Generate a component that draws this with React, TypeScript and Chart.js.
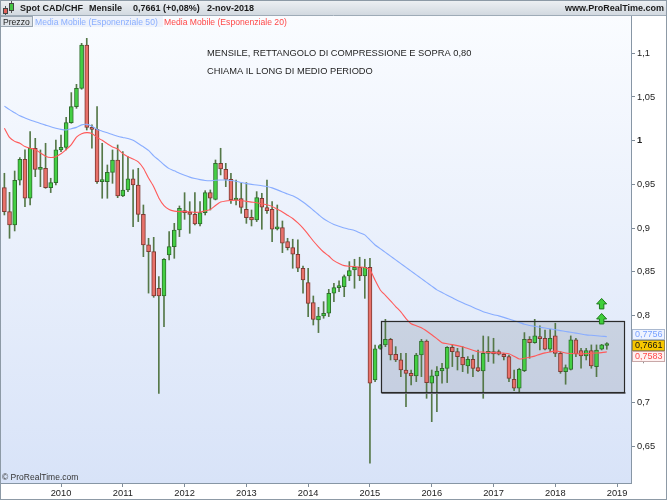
import React, { useEffect, useRef } from 'react';
import { Chart, registerables } from 'chart.js';

Chart.register(...registerables);

// Monthly candles, first candle = Feb 2009, last = Nov 2018
const firstMonth = 'feb-2009';
const yearLabels = ['2010', '2011', '2012', '2013', '2014', '2015', '2016', '2017', '2018', '2019'];
const yearTickIndex = [11, 23, 35, 47, 59, 71, 83, 95, 107, 119];
const yTicks = [0.65, 0.7, 0.75, 0.8, 0.85, 0.9, 0.95, 1, 1.05, 1.1];

const opens = [
  0.9463, 0.9188, 0.9036, 0.9547, 0.9787, 0.9341, 0.9913, 0.9672, 0.9684, 0.9463,
  0.9520, 0.9894, 0.9924, 1.0206, 1.0389, 1.0599, 1.1095, 1.0153, 1.0130, 0.9531,
  0.9531, 0.9638, 0.9779, 0.9367, 0.9436, 0.9562, 0.9493, 0.9157, 0.8807, 0.8730,
  0.8311, 0.8223, 0.8692, 0.8787, 0.8978, 0.9199, 0.9184, 0.9157, 0.9047, 0.9177,
  0.9405, 0.9329, 0.9741, 0.9673, 0.9558, 0.9321, 0.9337, 0.9215, 0.9123, 0.9093,
  0.9341, 0.9234, 0.9215, 0.8990, 0.9005, 0.8845, 0.8776, 0.8700, 0.8540, 0.8376,
  0.8147, 0.7949, 0.7994, 0.8025, 0.8254, 0.8318, 0.8330, 0.8452, 0.8521, 0.8551,
  0.8452, 0.8551, 0.7262, 0.7624, 0.7663, 0.7727, 0.7556, 0.7491, 0.7376, 0.7338,
  0.7308, 0.7548, 0.7708, 0.7224, 0.7308, 0.7365, 0.7395, 0.7636, 0.7586, 0.7521,
  0.7422, 0.7498, 0.7403, 0.7365, 0.7567, 0.7586, 0.7586, 0.7556, 0.7529, 0.7270,
  0.7167, 0.7369, 0.7727, 0.7689, 0.7739, 0.7739, 0.7613, 0.7766, 0.7567, 0.7357,
  0.7384, 0.7720, 0.7598, 0.7537, 0.7598, 0.7415, 0.7613, 0.7656,
];
const highs = [
  0.9627, 0.9409, 0.9653, 0.9806, 0.9894, 1.0103, 1.0027, 0.9894, 0.9970, 0.9570,
  1.0008, 1.0065, 1.0267, 1.0550, 1.0645, 1.1114, 1.1171, 1.0180, 1.0389, 0.9970,
  0.9722, 0.9894, 0.9951, 0.9875, 0.9817, 0.9665, 0.9684, 0.9264, 0.8883, 0.8894,
  0.8444, 0.8650, 0.8959, 0.9054, 0.9253, 0.9405, 0.9302, 0.9405, 0.9302, 0.9428,
  0.9436, 0.9779, 0.9913, 0.9741, 0.9627, 0.9550, 0.9512, 0.9520, 0.9207, 0.9417,
  0.9398, 0.9550, 0.9302, 0.9264, 0.9081, 0.8883, 0.8872, 0.8864, 0.8566, 0.8540,
  0.8223, 0.8093, 0.8158, 0.8299, 0.8368, 0.8395, 0.8463, 0.8616, 0.8643, 0.8666,
  0.8643, 0.8654, 0.7662, 0.7670, 0.7956, 0.7739, 0.7643, 0.7567, 0.7567, 0.7376,
  0.7567, 0.7727, 0.7720, 0.7376, 0.7415, 0.7453, 0.7643, 0.7663, 0.7624, 0.7643,
  0.7529, 0.7548, 0.7605, 0.7765, 0.7758, 0.7739, 0.7605, 0.7567, 0.7548, 0.7376,
  0.7396, 0.7804, 0.7758, 0.7956, 0.7880, 0.7834, 0.7842, 0.7911, 0.7586, 0.7434,
  0.7766, 0.7739, 0.7624, 0.7624, 0.7663, 0.7663, 0.7670, 0.7689,
];
const lows = [
  0.9150, 0.8883, 0.8967, 0.9493, 0.9245, 0.9264, 0.9588, 0.9474, 0.9455, 0.9406,
  0.9493, 0.9875, 0.9894, 1.0199, 1.0370, 1.0588, 1.0122, 0.9913, 0.9512, 0.9341,
  0.9341, 0.9512, 0.9348, 0.9360, 0.9417, 0.9017, 0.9074, 0.8673, 0.8256, 0.8208,
  0.7109, 0.7872, 0.8635, 0.8654, 0.8902, 0.9100, 0.8940, 0.9035, 0.9024, 0.9150,
  0.9207, 0.9322, 0.9608, 0.9474, 0.9283, 0.9264, 0.9169, 0.9054, 0.9024, 0.9074,
  0.8986, 0.9169, 0.8845, 0.8978, 0.8719, 0.8749, 0.8540, 0.8501, 0.8254, 0.7987,
  0.7891, 0.7804, 0.7968, 0.7987, 0.8158, 0.8273, 0.8215, 0.8399, 0.8311, 0.8399,
  0.8196, 0.6309, 0.7243, 0.7613, 0.7643, 0.7491, 0.7472, 0.7300, 0.6957, 0.7205,
  0.7243, 0.7300, 0.7052, 0.6785, 0.6900, 0.7224, 0.7232, 0.7415, 0.7376, 0.7357,
  0.7338, 0.7300, 0.7357, 0.7052, 0.7472, 0.7453, 0.7548, 0.7491, 0.7243, 0.7140,
  0.7117, 0.7357, 0.7510, 0.7682, 0.7605, 0.7605, 0.7586, 0.7529, 0.7338, 0.7213,
  0.7376, 0.7529, 0.7396, 0.7491, 0.7396, 0.7300, 0.7605, 0.7613,
];
const closes = [
  0.9188, 0.9036, 0.9547, 0.9787, 0.9341, 0.9913, 0.9672, 0.9691, 0.9463, 0.9520,
  0.9894, 0.9924, 1.0206, 1.0389, 1.0599, 1.1095, 1.0153, 1.0130, 0.9531, 0.9538,
  0.9638, 0.9779, 0.9367, 0.9436, 0.9562, 0.9493, 0.9157, 0.8807, 0.8730, 0.8223,
  0.8223, 0.8643, 0.8787, 0.8978, 0.9226, 0.9177, 0.9157, 0.9047, 0.9177, 0.9405,
  0.9341, 0.9741, 0.9676, 0.9558, 0.9321, 0.9337, 0.9237, 0.9119, 0.9093, 0.9348,
  0.9238, 0.9199, 0.8986, 0.9005, 0.8826, 0.8776, 0.8700, 0.8540, 0.8406, 0.8139,
  0.7956, 0.7994, 0.8025, 0.8254, 0.8318, 0.8338, 0.8444, 0.8513, 0.8551, 0.8452,
  0.8551, 0.7224, 0.7617, 0.7655, 0.7727, 0.7548, 0.7491, 0.7376, 0.7338, 0.7308,
  0.7548, 0.7708, 0.7232, 0.7308, 0.7365, 0.7395, 0.7636, 0.7586, 0.7529, 0.7434,
  0.7498, 0.7395, 0.7365, 0.7567, 0.7580, 0.7560, 0.7556, 0.7529, 0.7281, 0.7167,
  0.7384, 0.7727, 0.7689, 0.7766, 0.7735, 0.7613, 0.7739, 0.7567, 0.7357, 0.7403,
  0.7720, 0.7560, 0.7537, 0.7598, 0.7422, 0.7605, 0.7663, 0.7661,
];
// Exponential moving averages as drawn in the reference (read monthly)
const ema50 = [
  1.0395, 1.0355, 1.0320, 1.0284, 1.0260, 1.0237, 1.0217, 1.0197, 1.0178, 1.0159,
  1.0143, 1.0129, 1.0122, 1.0137, 1.0152, 1.0181, 1.0187, 1.0165, 1.0129, 1.0109,
  1.0090, 1.0070, 1.0051, 1.0037, 1.0024, 1.0005, 0.9968, 0.9930, 0.9888, 0.9826,
  0.9778, 0.9725, 0.9680, 0.9655, 0.9628, 0.9604, 0.9583, 0.9567, 0.9554, 0.9544,
  0.9541, 0.9547, 0.9550, 0.9550, 0.9545, 0.9535, 0.9522, 0.9509, 0.9500, 0.9492,
  0.9485, 0.9476, 0.9460, 0.9437, 0.9414, 0.9389, 0.9369, 0.9338, 0.9298, 0.9253,
  0.9204, 0.9155, 0.9106, 0.9071, 0.9041, 0.9020, 0.9000, 0.8986, 0.8972, 0.8947,
  0.8922, 0.8864, 0.8806, 0.8765, 0.8722, 0.8679, 0.8636, 0.8593, 0.8550, 0.8507,
  0.8464, 0.8421, 0.8379, 0.8336, 0.8293, 0.8262, 0.8232, 0.8202, 0.8172, 0.8145,
  0.8120, 0.8094, 0.8068, 0.8043, 0.8025, 0.8008, 0.7995, 0.7978, 0.7960, 0.7940,
  0.7920, 0.7900, 0.7886, 0.7876, 0.7866, 0.7856, 0.7847, 0.7837, 0.7827, 0.7817,
  0.7808, 0.7798, 0.7788, 0.7778, 0.7773, 0.7768, 0.7763, 0.7758,
];
const ema20 = [
  1.0143, 1.0037, 0.9992, 0.9971, 0.9932, 0.9913, 0.9900, 0.9860, 0.9823, 0.9808,
  0.9817, 0.9850, 0.9897, 0.9955, 1.0040, 1.0078, 1.0092, 1.0082, 1.0037, 1.0004,
  0.9965, 0.9928, 0.9904, 0.9852, 0.9817, 0.9790, 0.9758, 0.9685, 0.9573, 0.9473,
  0.9345, 0.9257, 0.9213, 0.9194, 0.9188, 0.9188, 0.9186, 0.9180, 0.9183, 0.9198,
  0.9213, 0.9258, 0.9297, 0.9310, 0.9316, 0.9320, 0.9315, 0.9305, 0.9297, 0.9290,
  0.9278, 0.9266, 0.9248, 0.9215, 0.9185, 0.9147, 0.9110, 0.9060, 0.9000, 0.8928,
  0.8852, 0.8786, 0.8726, 0.8680, 0.8627, 0.8595, 0.8570, 0.8563, 0.8559, 0.8555,
  0.8549, 0.8521, 0.8403, 0.8292, 0.8230, 0.8167, 0.8102, 0.8041, 0.7965, 0.7906,
  0.7883, 0.7860, 0.7822, 0.7780, 0.7735, 0.7689, 0.7677, 0.7666, 0.7655, 0.7641,
  0.7621, 0.7602, 0.7585, 0.7581, 0.7578, 0.7575, 0.7572, 0.7569, 0.7563, 0.7533,
  0.7502, 0.7510, 0.7521, 0.7535, 0.7555, 0.7572, 0.7583, 0.7595, 0.7585, 0.7570,
  0.7565, 0.7562, 0.7560, 0.7564, 0.7567, 0.7570, 0.7575, 0.7583,
];

const lastClose = 0.7661;
const lastEma50 = 0.7756;
const lastEma20 = 0.7583;
const headerItems = ['Spot CAD/CHF', 'Mensile', '0,7661 (+0,08%)', '2-nov-2018'];
const noteLines = ['MENSILE, RETTANGOLO DI COMPRESSIONE E SOPRA 0,80', 'CHIAMA IL LONG DI MEDIO PERIODO'];
// compression rectangle (month index range, price range)
const boxMonths = [73.1, 120.3];
const boxPrices = [0.7128, 0.794];
const arrowMonth = 116;
const arrowLevels = [0.8132, 0.796];

const FONT = '"Liberation Sans", Arial, sans-serif';
const GREEN = '#44cf44';
const GREEN_EDGE = '#2f6e2c';
const RED = '#e8716a';
const RED_EDGE = '#7d3a33';
const WICK = '#557848';
const BLUE_LINE = '#89adff';
const RED_LINE = '#ff5a5a';

const fmt = (v: number, d?: number) => {
  const s = d === undefined ? String(+v.toFixed(2)) : v.toFixed(d);
  return s.replace('.', ',');
};

const decor = {
  id: 'decor',
  beforeDraw(chart: any) {
    const { ctx, chartArea: a } = chart;
    ctx.save();
    ctx.fillStyle = '#ffffff';
    ctx.fillRect(0, 0, chart.width, chart.height);
    const g = ctx.createLinearGradient(0, a.top, 0, a.bottom);
    g.addColorStop(0, '#fafcff');
    g.addColorStop(1, '#d8e3f8');
    ctx.fillStyle = g;
    ctx.fillRect(a.left, a.top, a.right - a.left, a.bottom - a.top);
    ctx.restore();
  },
  beforeDatasetsDraw(chart: any) {
    const { ctx, scales: { x, y } } = chart;
    const l = x.getPixelForValue(boxMonths[0]);
    const r = x.getPixelForValue(boxMonths[1]);
    const t = y.getPixelForValue(boxPrices[1]);
    const b = y.getPixelForValue(boxPrices[0]);
    ctx.save();
    ctx.fillStyle = 'rgba(70,78,100,0.16)';
    ctx.fillRect(l, t, r - l, b - t);
    ctx.restore();
  },
  afterDatasetsDraw(chart: any) {
    const { ctx, scales: { x, y } } = chart;
    const l = Math.round(x.getPixelForValue(boxMonths[0])) + 0.5;
    const r = Math.round(x.getPixelForValue(boxMonths[1])) + 0.5;
    const t = Math.round(y.getPixelForValue(boxPrices[1])) + 0.5;
    const b = Math.round(y.getPixelForValue(boxPrices[0])) + 0.5;
    ctx.save();
    ctx.strokeStyle = '#6d7078';
    ctx.lineWidth = 2;
    ctx.beginPath();
    ctx.moveTo(l, b + 0.5);
    ctx.lineTo(r + 1, b + 0.5);
    ctx.stroke();
    ctx.strokeStyle = '#2a2a2a';
    ctx.lineWidth = 1.2;
    ctx.strokeRect(l, t, r - l, b - t);

    // arrows
    const ax = x.getPixelForValue(arrowMonth);
    arrowLevels.forEach((lv) => {
      const cy = y.getPixelForValue(lv);
      ctx.beginPath();
      ctx.moveTo(ax, cy - 5.5);
      ctx.lineTo(ax + 5, cy);
      ctx.lineTo(ax + 2.2, cy);
      ctx.lineTo(ax + 2.2, cy + 5);
      ctx.lineTo(ax - 2.2, cy + 5);
      ctx.lineTo(ax - 2.2, cy);
      ctx.lineTo(ax - 5, cy);
      ctx.closePath();
      ctx.fillStyle = '#3fcf3a';
      ctx.fill();
      ctx.strokeStyle = '#1f7a1c';
      ctx.lineWidth = 1;
      ctx.stroke();
    });
    ctx.restore();
  },
  afterDraw(chart: any) {
    const { ctx, chartArea: a, scales: { y } } = chart;
    const W = chart.width;
    const H = chart.height;
    ctx.save();
    // header bar
    const hg = ctx.createLinearGradient(0, 0, 0, 15);
    hg.addColorStop(0, '#eef1f4');
    hg.addColorStop(1, '#d2d9e0');
    ctx.fillStyle = hg;
    ctx.fillRect(0, 0, W, 15);
    ctx.strokeStyle = '#9eabb7';
    ctx.lineWidth = 1;
    ctx.beginPath();
    ctx.moveTo(0, 15.5);
    ctx.lineTo(W, 15.5);
    ctx.stroke();
    // icon
    ctx.strokeStyle = '#555';
    ctx.beginPath();
    ctx.moveTo(5.5, 6); ctx.lineTo(5.5, 15);
    ctx.moveTo(11.5, 1); ctx.lineTo(11.5, 13);
    ctx.stroke();
    ctx.fillStyle = '#e0605a';
    ctx.fillRect(3, 8, 5, 6);
    ctx.fillStyle = '#44c444';
    ctx.fillRect(9, 3, 5, 8);
    ctx.strokeStyle = '#444';
    ctx.strokeRect(3.5, 8.5, 4, 5);
    ctx.strokeRect(9.5, 3.5, 4, 7);

    ctx.fillStyle = '#1a1a1a';
    ctx.font = 'bold 9px ' + FONT;
    ctx.textBaseline = 'alphabetic';
    const hx = [20, 89, 133, 207];
    headerItems.forEach((t, i) => ctx.fillText(t, hx[i], 11));
    ctx.textAlign = 'right';
    ctx.fillText('www.ProRealTime.com', W - 3, 11);
    ctx.textAlign = 'left';

    // legend row
    ctx.fillStyle = '#dfe4ea';
    ctx.fillRect(0, 16, 33, 11);
    ctx.strokeStyle = '#9aa6b2';
    ctx.strokeRect(0.5, 16.5, 32, 10);
    ctx.font = '8.6px ' + FONT;
    ctx.fillStyle = '#222';
    ctx.fillText('Prezzo', 3, 25);
    ctx.fillStyle = '#eef2fb';
    ctx.fillRect(34, 16, 129, 11);
    ctx.fillStyle = '#8aaeff';
    ctx.fillText('Media Mobile (Esponenziale 50)', 35, 25);
    ctx.fillStyle = '#ff4848';
    ctx.fillText('Media Mobile (Esponenziale 20)', 164, 25);

    // note text
    ctx.fillStyle = '#1e1e1e';
    ctx.font = '9.3px ' + FONT;
    ctx.fillText(noteLines[0], 207, 56);
    ctx.fillText(noteLines[1], 207, 74);

    // copyright
    ctx.font = '8.5px ' + FONT;
    ctx.fillStyle = '#333';
    ctx.fillText('\u00A9 ProRealTime.com', 2, a.bottom - 3);

    // value boxes on right axis
    const bx = a.right + 1;
    const bw = 33;
    const bh = 11;
    const yc = y.getPixelForValue(lastClose);
    const boxes = [
      { v: lastEma50, cy: yc - bh, bg: '#eef3ff', fg: '#7aa2ff', br: '#a9b8cf' },
      { v: lastClose, cy: yc, bg: '#f7c600', fg: '#111', br: '#9c8a3a' },
      { v: lastEma20, cy: yc + bh, bg: '#fff1f1', fg: '#ff4a4a', br: '#c8a8a8' },
    ];
    ctx.font = '9px ' + FONT;
    ctx.textBaseline = 'middle';
    boxes.forEach((b) => {
      const top = Math.round(b.cy - bh / 2);
      ctx.fillStyle = b.bg;
      ctx.fillRect(bx, top, bw, bh);
      ctx.strokeStyle = b.br;
      ctx.strokeRect(bx + 0.5, top + 0.5, bw - 1, bh - 1);
      ctx.fillStyle = b.fg;
      ctx.fillText(fmt(b.v, 4), bx + 3, top + bh / 2 + 0.5);
    });

    // frame
    ctx.strokeStyle = '#8d9aa6';
    ctx.lineWidth = 1;
    ctx.beginPath();
    ctx.moveTo(0.5, 15);
    ctx.lineTo(0.5, a.bottom);
    ctx.stroke();
    ctx.strokeRect(0.5, 0.5, W - 1, H - 1);
    ctx.restore();
  },
};

export default function App() {
  const ref = useRef<HTMLCanvasElement>(null);
  useEffect(() => {
    const idx = opens.map((_, i) => i);
    const up = idx.map((i) => closes[i] >= opens[i]);
    const chart = new Chart(ref.current as HTMLCanvasElement, {
      type: 'bar',
      data: {
        datasets: [
          {
            type: 'line',
            label: 'Media Mobile (Esponenziale 20)',
            data: idx.map((i) => ({ x: i, y: ema20[i] })),
            borderColor: RED_LINE,
            borderWidth: 1.1,
            pointRadius: 0,
            tension: 0.2,
            order: 0,
          } as any,
          {
            type: 'line',
            label: 'Media Mobile (Esponenziale 50)',
            data: idx.map((i) => ({ x: i, y: ema50[i] })),
            borderColor: BLUE_LINE,
            borderWidth: 1.1,
            pointRadius: 0,
            tension: 0.2,
            order: 0,
          } as any,
          {
            type: 'bar',
            label: 'body',
            data: idx.map((i) => ({ x: i, y: [opens[i], closes[i]] })),
            backgroundColor: idx.map((i) => (up[i] ? GREEN : RED)),
            borderColor: idx.map((i) => (up[i] ? GREEN_EDGE : RED_EDGE)),
            borderWidth: 1,
            borderSkipped: false,
            barThickness: 4,
            minBarLength: 2,
            grouped: false,
            order: 1,
          } as any,
          {
            type: 'bar',
            label: 'wick',
            data: idx.map((i) => ({ x: i, y: [lows[i], highs[i]] })),
            backgroundColor: WICK,
            barThickness: 1,
            grouped: false,
            order: 2,
          } as any,
        ],
      },
      options: {
        responsive: false,
        animation: false,
        devicePixelRatio: 1,
        layout: { padding: { top: 15, left: 0, right: 0, bottom: 0 } },
        plugins: { legend: { display: false }, tooltip: { enabled: false }, title: { display: false } },
        scales: {
          x: {
            type: 'linear',
            offset: false,
            min: -0.85,
            max: 121.7,
            afterBuildTicks: (s: any) => {
              s.ticks = yearTickIndex.map((v) => ({ value: v }));
            },
            afterFit: (s: any) => {
              s.height = 17;
            },
            grid: { drawOnChartArea: false, drawTicks: true, tickLength: 4, color: '#7f8c99', offset: false },
            border: { display: true, color: '#8796a5' },
            ticks: {
              autoSkip: false,
              maxRotation: 0,
              padding: 1,
              color: '#222',
              font: { family: FONT, size: 9.3 },
              callback: (_v: any, i: number) => yearLabels[i],
            },
          },
          y: {
            type: 'linear',
            position: 'right',
            min: 0.6083,
            max: 1.1438,
            afterBuildTicks: (s: any) => {
              s.ticks = yTicks.map((v) => ({ value: v }));
            },
            afterFit: (s: any) => {
              s.width = 36;
            },
            grid: { drawOnChartArea: false, drawTicks: true, tickLength: 4, color: '#7f8c99' },
            border: { display: true, color: '#8796a5' },
            ticks: {
              padding: 2,
              color: '#222',
              font: (c: any) => ({
                family: FONT,
                size: 9.3,
                weight: c.tick && c.tick.value === 1 ? 'bold' : 'normal',
              }),
              callback: (v: any) => fmt(Number(v)),
            },
          },
        },
      },
      plugins: [decor],
    });
    return () => chart.destroy();
  }, []);
  return (
    <div style={{ position: 'fixed', left: 0, top: 0, width: 667, height: 500 }} data-first-month={firstMonth}>
      <canvas ref={ref} width={667} height={500} style={{ display: 'block' }} />
    </div>
  );
}
